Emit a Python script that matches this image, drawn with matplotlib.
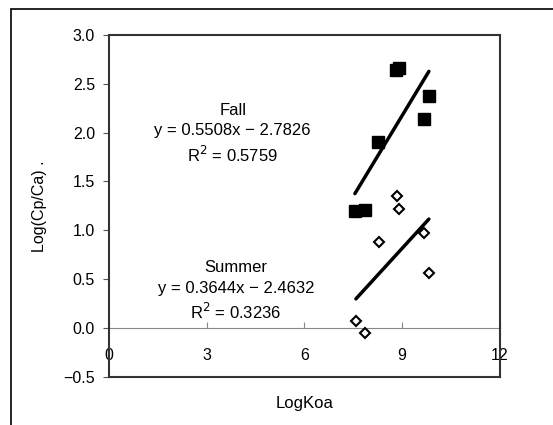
import matplotlib.pyplot as plt
import numpy as np
from matplotlib.patches import Rectangle

# data
fall_x = [7.55, 7.85, 8.25, 8.82, 8.9, 9.66, 9.82]
fall_y = [1.20, 1.21, 1.90, 2.64, 2.66, 2.14, 2.37]
summer_x = [7.58, 7.85, 8.28, 8.84, 8.9, 9.67, 9.82]
summer_y = [0.07, -0.05, 0.88, 1.35, 1.22, 0.97, 0.56]

fall_fit = (0.5508, -2.7826)
summer_fit = (0.3644, -2.4632)

x_ticks = [0, 3, 6, 9, 12]
y_ticks = [-0.5, 0.0, 0.5, 1.0, 1.5, 2.0, 2.5, 3.0]

plt.rcParams['font.family'] = ['Liberation Sans', 'DejaVu Sans']

fig = plt.figure(figsize=(5.53, 4.25), dpi=100)
ax = fig.add_axes([0.197, 0.113, 0.707, 0.805])

# outer frame
fig.patches.append(Rectangle((11 / 553, -0.1), 1.2, 0.1 + (425 - 9) / 425,
                             transform=fig.transFigure, fill=False,
                             edgecolor='black', lw=1.2))

ax.plot(fall_x, fall_y, 's', color='black', markersize=9, zorder=3)
ax.plot(summer_x, summer_y, 'D', markerfacecolor='white', markeredgecolor='black',
        markersize=5.5, markeredgewidth=1.5, zorder=3)

for xs, (m, b) in [(fall_x, fall_fit), (summer_x, summer_fit)]:
    xx = np.array([min(xs), max(xs)])
    ax.plot(xx, m * xx + b, color='black', lw=2.5, solid_capstyle='round')

ax.set_xlim(0, 12)
ax.set_ylim(-0.5, 3.0)
ax.set_yticks(y_ticks)
ax.set_yticklabels([f"{v:.1f}".replace('-', '\u2212') for v in y_ticks], fontsize=11.5)
ax.tick_params(axis='y', direction='out', length=4, color='#555555', pad=6)
ax.set_xticks([])

for s in ax.spines.values():
    s.set_color('#333333')
    s.set_linewidth(1.5)

# x axis crossing at y = 0
sec = ax.secondary_xaxis(0.5 / 3.5)
sec.set_xticks(x_ticks)
sec.set_xticklabels([str(v) for v in x_ticks], fontsize=11.5)
sec.tick_params(direction='in', length=4, color='#888888', pad=14)
sec.spines['bottom'].set_color('#888888')
sec.spines['bottom'].set_linewidth(0.8)

ax.text(3.8, 2.23, "Fall", ha='center', va='center', fontsize=12)
ax.text(3.8, 2.02, "y = 0.5508x \u2212 2.7826", ha='center', va='center', fontsize=12)
ax.text(3.8, 1.77, "R$^2$ = 0.5759", ha='center', va='center', fontsize=12)

ax.text(3.9, 0.62, "Summer", ha='center', va='center', fontsize=12)
ax.text(3.9, 0.41, "y = 0.3644x \u2212 2.4632", ha='center', va='center', fontsize=12)
ax.text(3.9, 0.17, "R$^2$ = 0.3236", ha='center', va='center', fontsize=12)

ax.set_ylabel("Log(Cp/Ca) .", fontsize=11.5, labelpad=12)
ax.set_xlabel("LogKoa", fontsize=12, labelpad=14)

fig.savefig("out.png", dpi=100)
